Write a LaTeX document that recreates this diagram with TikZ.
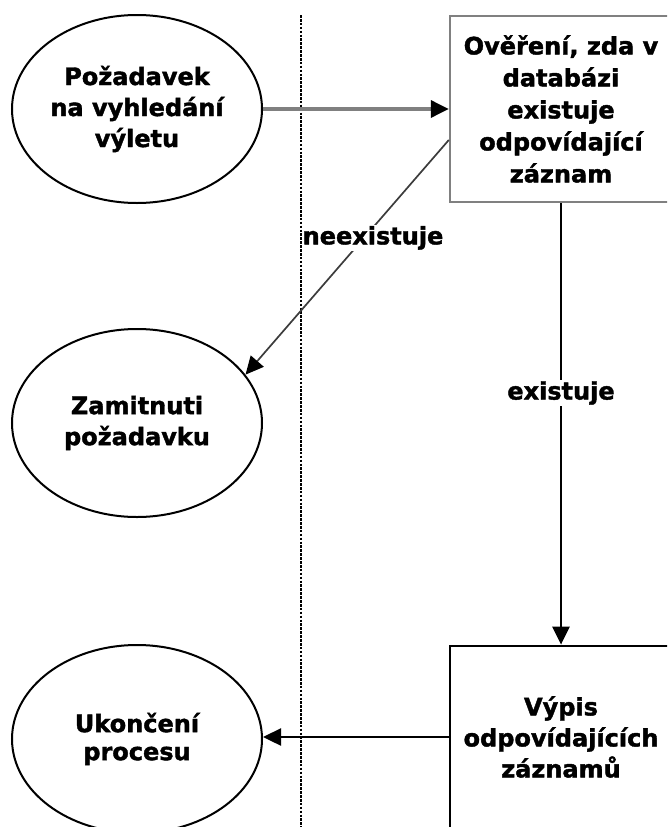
\documentclass[tikz,border=0pt]{standalone}
\usepackage{fontspec}
\setmainfont{DejaVu Sans}[BoldFeatures={FakeBold=1.6}]
\usetikzlibrary{shapes.geometric,arrows.meta,calc}
\definecolor{midgray}{RGB}{128,128,128}
\definecolor{darkline}{RGB}{60,60,60}
\begin{document}
\begin{tikzpicture}[x=1pt,y=-1pt,
  every node/.style={font=\bfseries\fontsize{24}{31}\selectfont, align=center, inner sep=0pt},
  stage/.style={ellipse, draw=black, line width=2pt, minimum width=250pt, minimum height=188pt},
  querybox/.style={rectangle, draw=midgray, line width=2.4pt, minimum width=222pt, minimum height=186pt,
    font=\bfseries\fontsize{24}{32}\selectfont},
  resultbox/.style={rectangle, draw=black, line width=2.8pt, minimum width=222pt, minimum height=182pt},
  headtip/.style={-{Triangle[length=18pt,width=17pt,color=black]}},
  mainflow/.style={draw=midgray, line width=3.4pt, headtip},
  sideflow/.style={draw=darkline, line width=1.7pt, headtip},
  blackflow/.style={draw=black, line width=2.4pt, headtip},
  flowlabel/.style={fill=white, inner sep=1pt},
  lane/.style={draw=black, line width=2.6pt, dash pattern=on 2.6pt off 1.3pt}
]
\useasboundingbox (0,0) rectangle (667,827);
\clip (0,0) rectangle (667,827);

% swimlane divider
\coordinate (lanetop) at (301,15);
\coordinate (lanebot) at (301,827);
\draw[lane] (lanetop) -- (lanebot);

% process steps
\node[stage] (req) at (137,109) {Požadavek\\na vyhledání\\výletu\hspace{0.8em}};
\node[querybox] (check) at (561,109) {Ověření, zda v\\databázi\\existuje\\odpovídající\\záznam};
\node[stage] (reject) at (137,423) {Zamitnuti\\požadavku};
\node[resultbox] (list) at (561,737) {Výpis\\odpovídajících\\záznamů};
\node[stage, font=\bfseries\fontsize{24}{28}\selectfont] (finish) at (137,739) {Ukončení\\procesu};

% flows
\draw[mainflow] (req.east) -- (check.west);
\draw[sideflow] ($(check.west)+(0,31)$) -- (reject.24)
  node[flowlabel, pos=0.417, xshift=9pt] {neexistuje};
\draw[blackflow] (check.south) -- (list.north)
  node[flowlabel, pos=0.43] {existuje};
\draw[blackflow] (list.west) -- (list.west -| finish.east);
\end{tikzpicture}
\end{document}
